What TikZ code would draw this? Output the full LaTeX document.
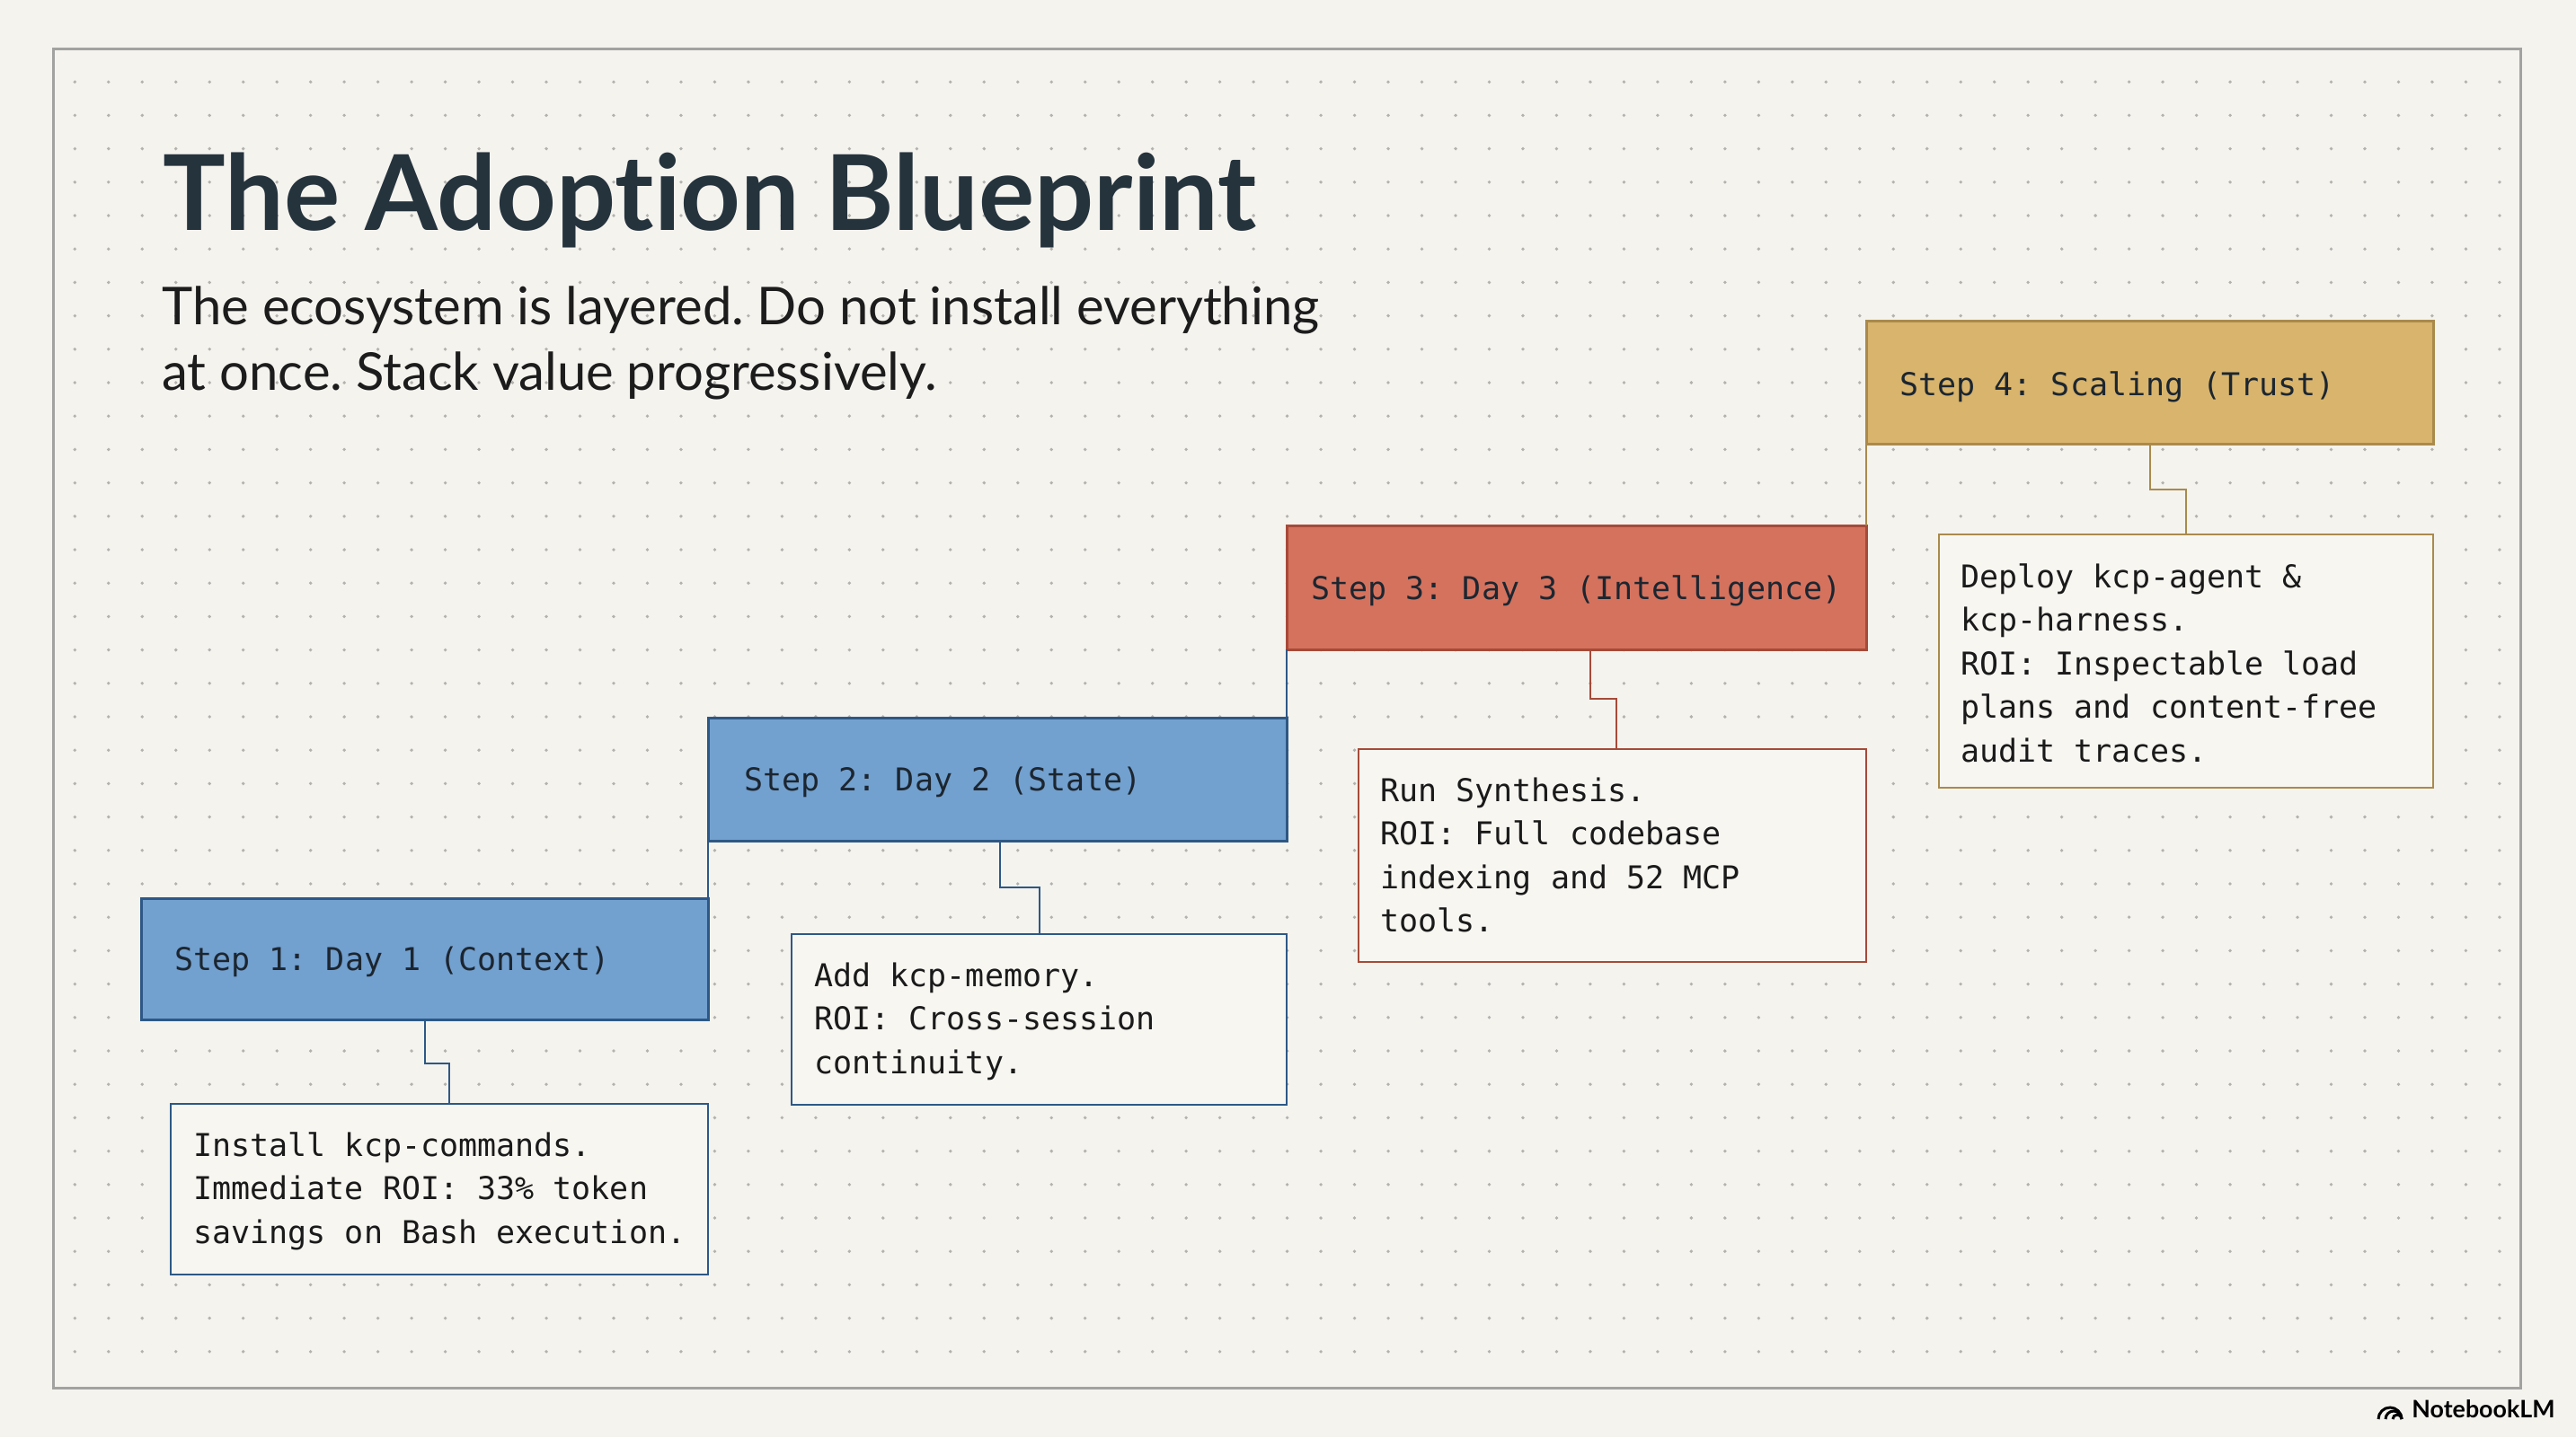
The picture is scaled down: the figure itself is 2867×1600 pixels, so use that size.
\documentclass[tikz,border=0pt]{standalone}
\usepackage{fontspec}
\setmainfont{Lato}[Ligatures=NoCommon]
\newfontfamily\monof{DejaVu Sans Mono}
\usetikzlibrary{calc}
\frenchspacing
\definecolor{bgc}{HTML}{F5F3EE}
\definecolor{dotc}{HTML}{B4B2AE}
\definecolor{framec}{HTML}{A2A2A0}
\definecolor{titlec}{HTML}{25333D}
\definecolor{subc}{HTML}{1C1C1C}
\definecolor{blueF}{HTML}{72A0CF}
\definecolor{blueD}{HTML}{2D5886}
\definecolor{redF}{HTML}{D4725E}
\definecolor{redD}{HTML}{A64A39}
\definecolor{goldF}{HTML}{D8B46C}
\definecolor{goldD}{HTML}{A98A4D}
\definecolor{noteF}{HTML}{F8F6F1}
\definecolor{stepT}{HTML}{1C2630}
\definecolor{noteT}{HTML}{1A1A1A}
\begin{document}
\frenchspacing
\begin{tikzpicture}[x=0.5pt,y=-0.5pt,
  stepbox/.style={draw, rectangle, line width=1.5pt, inner sep=0pt, outer sep=0pt},
  notebox/.style={draw, rectangle, fill=noteF, line width=1.4pt, inner sep=0pt, outer sep=0pt},
  steptext/.style={font=\monof\fontsize{17.5}{21}\selectfont\frenchspacing, text=stepT, inner sep=0pt, anchor=base west},
  notetext/.style={font=\monof\fontsize{17.5}{24.25}\selectfont\frenchspacing, text=noteT, inner sep=0pt, anchor=base west},
  conn/.style={line width=1.3pt}]
% background
\fill[bgc] (0,0) rectangle (2867,1600);
\useasboundingbox (0,0) rectangle (2867,1600);
% dot grid
\foreach \i in {0,...,72}{
  \foreach \j in {1,...,39}{
    \fill[dotc] (83.3+37.48*\i, 54+37.2*\j) circle[radius=1.9];
  }
}
% frame
\draw[framec, line width=1.5pt] (59.5,54.5) rectangle (2805.5,1545);
% title and subtitle
\node[anchor=base west, inner sep=0pt, text=titlec] (title) at (181,256.7)
  {\resizebox{608.5pt}{!}{\fontsize{58}{60}\selectfont\bfseries The Adoption Blueprint}};
\node[anchor=base west, inner sep=0pt, text=subc] (sub) at (180,361.7)
  {\resizebox{644pt}{!}{\fontsize{27.9}{35}\selectfont\frenchspacing\begin{tabular}[t]{@{}l@{}}The ecosystem is layered. Do not install everything\\at once. Stack value progressively.\end{tabular}}};
% coordinates for connector jogs
\coordinate (k1) at (473,1184);  \coordinate (j1) at (500,1184);
\coordinate (k2) at (1113,988);  \coordinate (j2) at (1157,988);
\coordinate (k3) at (1770,778);  \coordinate (j3) at (1799,778);
\coordinate (k4) at (2393,545);  \coordinate (j4) at (2433,545);
% boxes
\node[stepbox, fill=blueF, draw=blueD, minimum width=315.5pt, minimum height=67.5pt] (s1) at (472.5,1067.5) {};
\node[stepbox, fill=blueF, draw=blueD, minimum width=322pt, minimum height=68.5pt] (s2) at (1110,867.5) {};
\node[stepbox, fill=redF, draw=redD, minimum width=322.5pt, minimum height=69pt] (s3) at (1754.5,654) {};
\node[stepbox, fill=goldF, draw=goldD, minimum width=315.5pt, minimum height=68.5pt] (s4) at (2392.5,425.5) {};
\node[notebox, draw=blueD, minimum width=299pt, minimum height=95pt] (n1) at (489,1324) {};
\node[notebox, draw=blueD, minimum width=275.5pt, minimum height=95pt] (n2) at (1156.5,1135) {};
\node[notebox, draw=redD, minimum width=282.5pt, minimum height=118.5pt] (n3) at (1794.5,952.5) {};
\node[notebox, draw=goldD, minimum width=275pt, minimum height=141pt] (n4) at (2433,736) {};
% risers between steps
\draw[conn, blueD] (s1.north east) -- (s2.south west);
\draw[conn, blueD] (s2.north east) -- (s3.south west);
\draw[conn, goldD] (s3.north east) -- (s4.south west);
% connectors step -> note
\draw[conn, blueD] (s1.south -| k1) -- (k1) -- (j1) -- (n1.north -| j1);
\draw[conn, blueD] (s2.south -| k2) -- (k2) -- (j2) -- (n2.north -| j2);
\draw[conn, redD] (s3.south -| k3) -- (k3) -- (j3) -- (n3.north -| j3);
\draw[conn, goldD] (s4.south -| k4) -- (k4) -- (j4) -- (n4.north -| j4);
% step labels
\node[steptext] (t1) at (194,1080) {Step 1: Day 1 (Context)};
\node[steptext] (t2) at (828,880) {Step 2: Day 2 (State)};
\node[steptext] (t3) at (1459,667) {Step 3: Day 3 (Intelligence)};
\node[steptext] (t4) at (2114,440) {Step 4: Scaling (Trust)};
% note texts
\node[notetext] (m1) at (215,1287) {\begin{tabular}[t]{@{}l@{}}Install kcp-commands.\\Immediate ROI: 33\% token\\savings on Bash execution.\end{tabular}};
\node[notetext] (m2) at (906,1098) {\begin{tabular}[t]{@{}l@{}}Add kcp-memory.\\ROI: Cross-session\\continuity.\end{tabular}};
\node[notetext] (m3) at (1536,892) {\begin{tabular}[t]{@{}l@{}}Run Synthesis.\\ROI: Full codebase\\indexing and 52 MCP\\tools.\end{tabular}};
\node[notetext] (m4) at (2182,654) {\begin{tabular}[t]{@{}l@{}}Deploy kcp-agent \&\\kcp-harness.\\ROI: Inspectable load\\plans and content-free\\audit traces.\end{tabular}};
% NotebookLM mark
\draw[black, line width=1.5pt] (2647,1580) arc[start angle=180, end angle=360, radius=13];
\draw[black, line width=1.5pt] (2655,1580) arc[start angle=180, end angle=360, radius=9];
\draw[black, line width=1.5pt] (2663,1580) arc[start angle=180, end angle=360, radius=5];
\node[anchor=base west, inner sep=0pt, font=\fontsize{13.4}{15}\selectfont\bfseries] (nlm) at (2684,1578) {NotebookLM};
\end{tikzpicture}
\end{document}
